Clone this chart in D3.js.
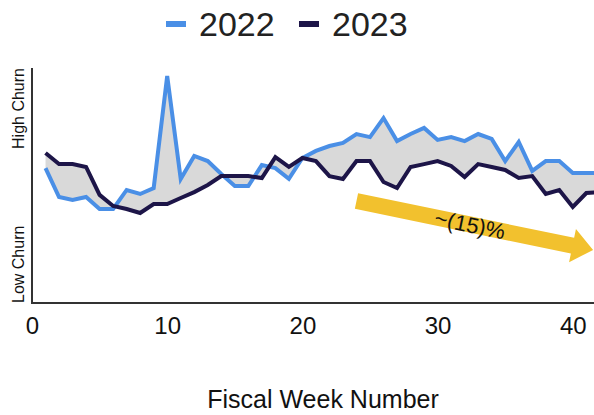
<!DOCTYPE html>
<html>
<head>
<meta charset="utf-8">
<script src="https://cdn.jsdelivr.net/npm/d3@7"></script>
<style>
  html, body { margin: 0; padding: 0; background: #fff; }
  #chart { width: 594px; height: 415px; overflow: hidden; }
  text { font-family: Arial, "Liberation Sans", sans-serif; }
</style>
</head>
<body>
<div id="chart"></div>
<script>
// --- data (churn index, 0 = low, 100 = high) ---
const weeks = d3.range(1, 43);
const churn2022 = [
  57.4, 45.1, 43.8, 45.1, 40.0, 40.0, 48.1, 46.4, 48.9, 96.6,
  52.8, 62.6, 60.4, 54.9, 49.8, 49.8, 58.7, 57.4, 52.8, 61.7,
  64.7, 66.8, 68.1, 71.9, 70.6, 78.7, 68.9, 71.9, 74.5, 69.4,
  70.6, 68.9, 71.9, 69.8, 60.4, 68.5, 56.2, 60.4, 60.4, 55.3,
  55.3, 55.3
];
const churn2023 = [
  63.8, 59.1, 59.1, 57.9, 46.0, 41.3, 40.0, 38.3, 42.1, 42.1,
  44.7, 47.2, 50.2, 54.0, 54.0, 54.0, 53.2, 62.1, 57.9, 61.7,
  60.4, 54.0, 52.8, 60.4, 60.4, 51.5, 48.9, 57.9, 59.1, 60.4,
  58.3, 53.6, 59.1, 57.9, 56.6, 53.2, 54.0, 46.4, 48.1, 40.9,
  46.8, 47.2
];
const xTicks = [0, 10, 20, 30, 40];
const seriesNames = ["2022", "2023"];
const seriesColors = ["#4a8fe6", "#1d1548"];
// trend annotation: [week, churn]
const trendStart = [24, 43.4];
const trendEnd = [41.5, 22.6];
const trendLabel = "~(15)%";

const width = 594, height = 415;
const svg = d3.select("#chart").append("svg")
  .attr("width", width)
  .attr("height", height);

const x = d3.scaleLinear().domain([0, 40]).range([32, 572.8]);
const y = d3.scaleLinear().domain([0, 100]).range([303, 68]);

const rows = weeks.map((w, i) => ({ week: w, a: churn2022[i], b: churn2023[i] }));

// gap between the two years
svg.append("path")
  .datum(rows)
  .attr("fill", "#d9d9d9")
  .attr("d", d3.area()
    .x(d => x(d.week))
    .y0(d => y(d.b))
    .y1(d => y(d.a)));

const line = key => d3.line().x(d => x(d.week)).y(d => y(d[key]));

svg.append("path")
  .datum(rows)
  .attr("fill", "none")
  .attr("stroke", seriesColors[0])
  .attr("stroke-width", 4)
  .attr("d", line("a"));

svg.append("path")
  .datum(rows)
  .attr("fill", "none")
  .attr("stroke", seriesColors[1])
  .attr("stroke-width", 4)
  .attr("d", line("b"));

// axes
svg.append("path")
  .attr("d", `M${x(0)},${y(100)}V${y(0)}H${width}`)
  .attr("fill", "none")
  .attr("stroke", "#333")
  .attr("stroke-width", 2);

const xAxis = svg.append("g")
  .attr("transform", `translate(0,${y(0)})`)
  .call(d3.axisBottom(x).tickValues(xTicks).tickSize(0).tickPadding(14));
xAxis.select(".domain").remove();
xAxis.selectAll("text")
  .attr("font-size", 24)
  .attr("font-family", "Arial, 'Liberation Sans', sans-serif")
  .attr("fill", "#111");

svg.append("text")
  .attr("x", 323)
  .attr("y", 408)
  .attr("text-anchor", "middle")
  .attr("font-size", 25)
  .attr("fill", "#111")
  .text("Fiscal Week Number");

svg.append("text")
  .attr("transform", `translate(24,${y(100)}) rotate(-90)`)
  .attr("text-anchor", "end")
  .attr("font-size", 16)
  .attr("fill", "#111")
  .text("High Churn");

svg.append("text")
  .attr("transform", `translate(24,${y(0)}) rotate(-90)`)
  .attr("text-anchor", "start")
  .attr("font-size", 16)
  .attr("fill", "#111")
  .text("Low Churn");

// trend arrow
const p0 = [x(trendStart[0]), y(trendStart[1])];
const p1 = [x(trendEnd[0]), y(trendEnd[1])];
const len = Math.hypot(p1[0] - p0[0], p1[1] - p0[1]);
const ang = Math.atan2(p1[1] - p0[1], p1[0] - p0[0]) * 180 / Math.PI;
const shaft = 8, head = 17, headLen = 21;
const arrow = svg.append("g")
  .attr("transform", `translate(${p0[0]},${p0[1]}) rotate(${ang})`);
arrow.append("path")
  .attr("fill", "#f2c12e")
  .attr("d", `M0,${-shaft}H${len - headLen}V${-head}L${len},0L${len - headLen},${head}V${shaft}H0Z`);
arrow.append("text")
  .attr("x", len * 0.48)
  .attr("y", 8)
  .attr("text-anchor", "middle")
  .attr("font-size", 22)
  .attr("fill", "#111")
  .text(trendLabel);

// legend
const legend = svg.append("g");
const legendX = [166, 299];
seriesNames.forEach((name, i) => {
  legend.append("rect")
    .attr("x", legendX[i])
    .attr("y", 21)
    .attr("width", 20)
    .attr("height", 6)
    .attr("fill", seriesColors[i]);
  legend.append("text")
    .attr("x", legendX[i] + 33)
    .attr("y", 36)
    .attr("font-size", 34)
    .attr("fill", "#222")
    .text(name);
});
</script>
</body>
</html>
